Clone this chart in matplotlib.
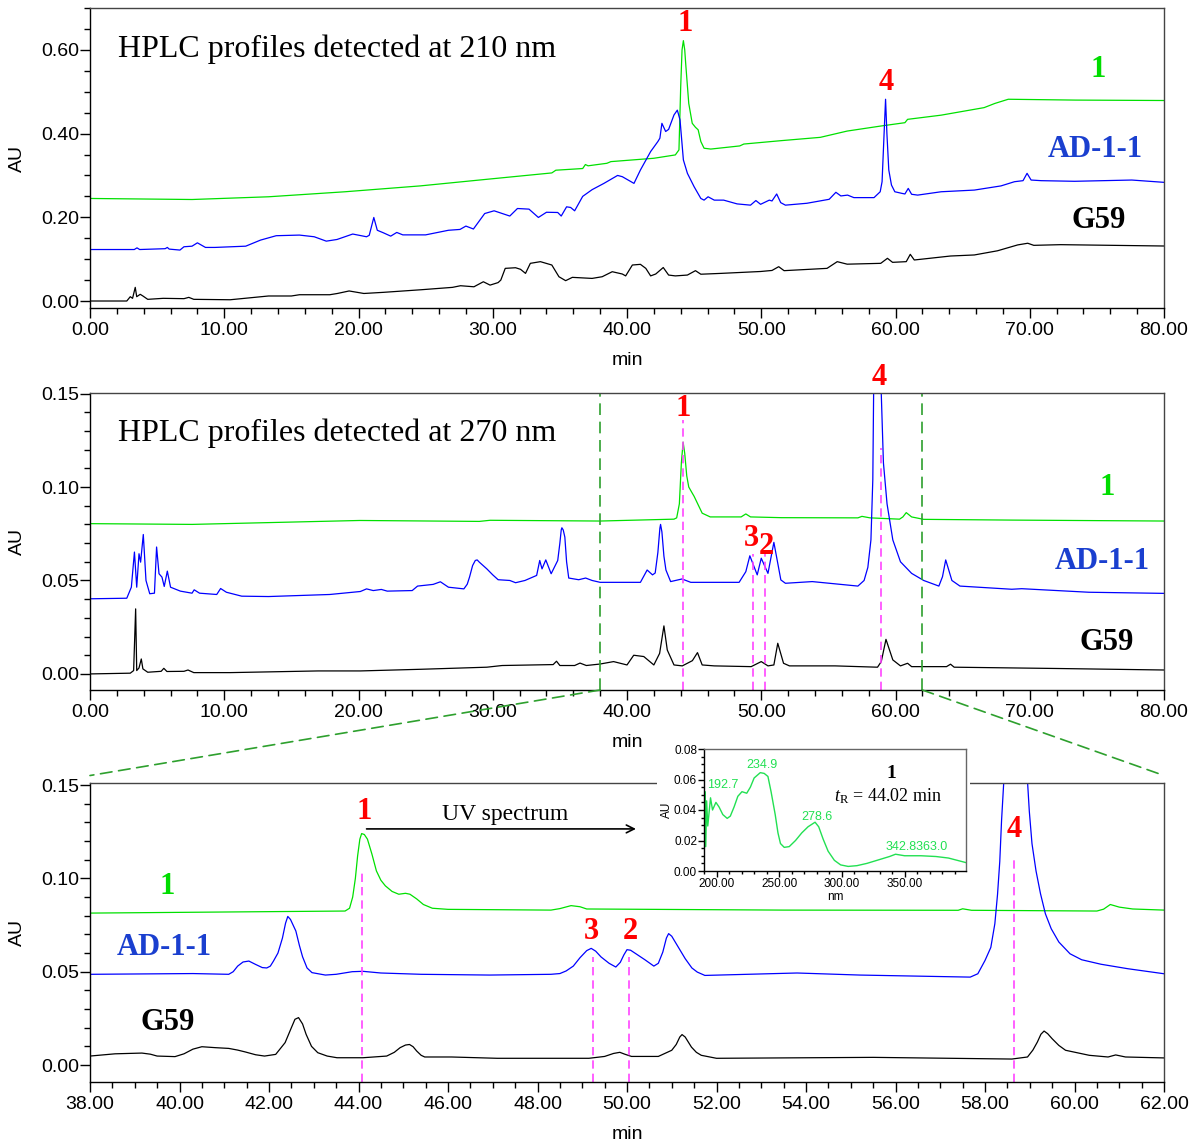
import matplotlib
matplotlib.use('Agg')
import matplotlib.pyplot as plt
from matplotlib.ticker import MultipleLocator, FormatStrFormatter
from matplotlib.patches import Rectangle, ConnectionPatch

# ---------------- data ----------------
# Panel 1: 210 nm, (time [min], AU)
CMP1_210 = [(0, 0.245), (7.6, 0.2425), (13.3, 0.249), (19.0, 0.261), (24.6, 0.275), (29.0, 0.289),
            (34.4, 0.306), (34.7, 0.3125), (36.7, 0.3165), (36.9, 0.326), (37.1, 0.323), (38.5, 0.329),
            (38.8, 0.333), (42.0, 0.341), (43.6, 0.349), (43.87, 0.361), (44.0, 0.512), (44.1, 0.600),
            (44.2, 0.622), (44.3, 0.600), (44.37, 0.568), (44.6, 0.472), (44.86, 0.4245), (45.1, 0.415),
            (45.3, 0.409), (45.5, 0.381), (45.74, 0.365), (46.24, 0.363), (48.4, 0.3705), (48.7, 0.375),
            (51.45, 0.383), (54.4, 0.391), (56.4, 0.406), (58.9, 0.418), (60.7, 0.426), (60.9, 0.434),
            (63.4, 0.444), (66.6, 0.462), (67.4, 0.472), (68.4, 0.482), (73.4, 0.480), (80.0, 0.479)]
AD_210 = [(0, 0.123), (3.3, 0.123), (3.5, 0.127), (3.7, 0.123), (5.6, 0.125), (5.76, 0.128), (5.9, 0.124),
          (6.7, 0.1217), (7.0, 0.1296), (7.6, 0.131), (8.0, 0.139), (8.6, 0.128), (9.3, 0.128), (11.6, 0.131),
          (12.7, 0.1455), (13.87, 0.156), (15.6, 0.1575), (16.7, 0.1535), (17.6, 0.143), (18.4, 0.147),
          (19.57, 0.160), (20.6, 0.1535), (20.8, 0.157), (21.14, 0.1996), (21.4, 0.169), (21.85, 0.163),
          (22.4, 0.155), (22.85, 0.1638), (23.3, 0.158), (25.0, 0.158), (26.7, 0.169), (27.56, 0.171),
          (28.0, 0.179), (28.56, 0.172), (29.4, 0.209), (30.1, 0.2155), (31.27, 0.203), (31.84, 0.221),
          (32.7, 0.2195), (33.4, 0.1996), (34.0, 0.212), (34.84, 0.2115), (35.1, 0.203), (35.5, 0.225),
          (35.8, 0.2235), (36.1, 0.2155), (36.7, 0.250), (37.4, 0.266), (38.28, 0.281), (39.3, 0.300),
          (39.65, 0.297), (40.52, 0.281), (41.0, 0.313), (41.76, 0.357), (42.3, 0.381), (42.45, 0.389),
          (42.6, 0.4245), (42.88, 0.405), (43.1, 0.41), (43.5, 0.4445), (43.75, 0.456), (43.95, 0.4325),
          (44.2, 0.337), (44.5, 0.305), (45.0, 0.273), (45.5, 0.245), (45.74, 0.241), (46.04, 0.249),
          (46.5, 0.241), (47.2, 0.241), (48.2, 0.232), (49.2, 0.229), (49.6, 0.240), (49.95, 0.231),
          (50.6, 0.241), (50.8, 0.239), (51.15, 0.2557), (51.45, 0.235), (51.8, 0.229), (53.4, 0.2335),
          (55.06, 0.243), (55.56, 0.2597), (55.93, 0.251), (56.43, 0.253), (56.9, 0.247), (58.4, 0.247),
          (58.86, 0.261), (59.0, 0.285), (59.15, 0.40), (59.26, 0.482), (59.36, 0.40), (59.5, 0.313),
          (59.7, 0.277), (59.95, 0.261), (60.5, 0.257), (60.7, 0.2557), (60.95, 0.269), (61.2, 0.255),
          (61.65, 0.253), (63.4, 0.261), (65.87, 0.265), (67.86, 0.275), (68.86, 0.285), (69.5, 0.2875),
          (69.8, 0.305), (70.1, 0.289), (70.85, 0.2875), (73.34, 0.286), (77.6, 0.289), (80.0, 0.2835)]
G59_210 = [(0, 0.0), (2.74, 0.0), (3.0, 0.0103), (3.17, 0.0064), (3.37, 0.0326), (3.48, 0.0103),
           (3.74, 0.016), (3.94, 0.012), (4.3, 0.004), (5.45, 0.0064), (7.0, 0.0056), (7.36, 0.0087),
           (7.73, 0.004), (10.44, 0.003), (13.3, 0.012), (15.0, 0.012), (15.6, 0.015), (17.86, 0.015),
           (18.43, 0.018), (19.3, 0.024), (20.4, 0.018), (21.85, 0.0207), (24.7, 0.027), (27.0, 0.0326),
           (27.6, 0.0365), (28.6, 0.034), (29.3, 0.046), (29.8, 0.038), (30.4, 0.044), (30.6, 0.050),
           (30.93, 0.078), (31.7, 0.0795), (32.07, 0.0757), (32.44, 0.066), (32.8, 0.090), (33.55, 0.094),
           (34.4, 0.086), (34.93, 0.058), (35.43, 0.0486), (35.93, 0.0565), (37.4, 0.054), (38.15, 0.058),
           (38.9, 0.070), (39.65, 0.0645), (39.9, 0.060), (40.4, 0.086), (41.0, 0.0876), (41.4, 0.078),
           (41.76, 0.060), (42.14, 0.0645), (42.7, 0.080), (43.1, 0.062), (43.6, 0.060), (44.5, 0.062),
           (45.1, 0.0725), (45.5, 0.064), (47.0, 0.066), (49.95, 0.0705), (50.8, 0.073), (51.3, 0.082),
           (51.7, 0.0725), (54.9, 0.078), (55.66, 0.094), (56.4, 0.088), (58.9, 0.090), (59.4, 0.102),
           (59.78, 0.0924), (60.8, 0.094), (61.1, 0.1115), (61.4, 0.098), (64.1, 0.1075), (65.87, 0.110),
           (67.6, 0.120), (69.1, 0.134), (69.85, 0.138), (70.3, 0.133), (72.3, 0.1346), (80.0, 0.1314)]

# Panel 2: 270 nm
CMP1_270 = [(0, 0.0804), (7.6, 0.080), (20.1, 0.0821), (29.0, 0.0816), (29.8, 0.0822), (38.0, 0.0818),
            (43.5, 0.0828), (43.7, 0.0835), (43.9, 0.091), (44.05, 0.113), (44.18, 0.124), (44.3, 0.118),
            (44.45, 0.106), (44.6, 0.100), (44.87, 0.0966), (45.0, 0.095), (45.2, 0.092), (45.6, 0.086),
            (46.2, 0.084), (48.5, 0.084), (48.85, 0.0856), (49.2, 0.084), (51.5, 0.0836), (57.2, 0.0835),
            (57.5, 0.0843), (58.1, 0.0835), (60.3, 0.0828), (60.55, 0.084), (60.8, 0.0863), (61.2, 0.084),
            (62.1, 0.0827), (68.7, 0.0823), (80.0, 0.0818)]
AD_270 = [(0, 0.0402), (2.74, 0.0405), (3.08, 0.0464), (3.31, 0.0652), (3.48, 0.0464), (3.65, 0.0643),
          (3.77, 0.0598), (3.97, 0.0746), (4.17, 0.050), (4.45, 0.0429), (4.8, 0.0432), (4.96, 0.0679),
          (5.14, 0.0536), (5.36, 0.0518), (5.53, 0.0468), (5.76, 0.055), (6.0, 0.0464), (6.73, 0.0443),
          (7.6, 0.0432), (7.76, 0.045), (8.16, 0.0432), (9.44, 0.0425), (9.73, 0.0457), (10.16, 0.0437),
          (11.3, 0.0416), (13.3, 0.0414), (17.86, 0.0425), (20.14, 0.0441), (20.6, 0.0455), (21.1, 0.0446),
          (21.7, 0.0452), (22.14, 0.0443), (24.0, 0.0446), (24.4, 0.047), (25.56, 0.0479), (26.1, 0.0493),
          (26.7, 0.0464), (27.85, 0.0455), (28.1, 0.048), (28.27, 0.0518), (28.5, 0.058), (28.7, 0.0607),
          (28.84, 0.061), (29.0, 0.0598), (29.56, 0.0562), (30.0, 0.053), (30.4, 0.0504),
          (31.27, 0.050), (31.7, 0.0488), (32.4, 0.050), (33.27, 0.0527), (33.5, 0.0607), (33.67, 0.0562),
          (33.95, 0.061), (34.35, 0.0536), (34.84, 0.0607), (35.0, 0.070), (35.1, 0.077), (35.15, 0.0782),
          (35.25, 0.077), (35.37, 0.0732), (35.5, 0.060), (35.66, 0.0513),
          (36.4, 0.0504), (36.92, 0.0513), (37.4, 0.050), (38.0, 0.049), (41.0, 0.049), (41.5, 0.0556),
          (41.9, 0.053), (42.1, 0.054), (42.3, 0.065), (42.45, 0.078), (42.5, 0.080), (42.6, 0.076),
          (42.75, 0.063), (42.9, 0.0556), (43.25, 0.0494), (44.1, 0.0508), (44.75, 0.049),
          (48.35, 0.049), (48.85, 0.0547), (49.15, 0.0632), (49.7, 0.053), (50.0, 0.0619), (50.5, 0.0538),
          (50.94, 0.0704), (51.46, 0.0503), (51.8, 0.0485), (53.8, 0.0494), (57.2, 0.047), (57.66, 0.050),
          (57.94, 0.057), (58.17, 0.0717), (58.31, 0.104), (58.37, 0.15), (58.65, 0.22), (58.94, 0.15),
          (59.1, 0.113), (59.37, 0.091), (59.8, 0.0717), (60.37, 0.060), (61.2, 0.0538), (62.1, 0.050),
          (63.23, 0.047), (63.5, 0.052), (63.74, 0.061), (64.2, 0.050), (64.8, 0.047), (68.66, 0.0453),
          (69.4, 0.0456), (74.4, 0.0437), (80.0, 0.0431)]
G59_270 = [(0, 0.0), (3.0, 0.0004), (3.25, 0.0018), (3.4, 0.0348), (3.48, 0.0018), (3.65, 0.0032),
           (3.82, 0.008), (3.94, 0.0027), (4.3, 0.0009), (5.3, 0.0014), (5.5, 0.003), (5.73, 0.0013),
           (7.0, 0.0014), (7.3, 0.0021), (7.73, 0.0007), (10.44, 0.0007), (17.0, 0.0016), (20.14, 0.0016),
           (24.7, 0.0025), (29.56, 0.0036), (30.7, 0.0045), (34.5, 0.005), (34.75, 0.0068), (35.0, 0.0045),
           (36.1, 0.0045), (36.5, 0.0058), (36.97, 0.0045), (38.0, 0.0053), (39.0, 0.0066), (40.0, 0.0048),
           (40.5, 0.010), (41.25, 0.0093), (42.0, 0.0048), (42.43, 0.011), (42.75, 0.0257), (43.0, 0.0128),
           (43.5, 0.0048), (44.12, 0.0043), (44.87, 0.0071), (45.25, 0.0114), (45.6, 0.0048), (46.5, 0.0043),
           (49.25, 0.0039), (50.0, 0.0066), (50.5, 0.0043), (50.94, 0.0048), (51.23, 0.0164), (51.66, 0.0057),
           (52.1, 0.0043), (55.5, 0.0043), (58.66, 0.0036), (58.94, 0.0066), (59.29, 0.0185), (59.8, 0.0075),
           (60.37, 0.0043), (60.9, 0.0057), (61.2, 0.0039), (63.8, 0.0039), (64.1, 0.0052), (64.37, 0.0036),
           (72.1, 0.0029), (80.0, 0.0021)]

# Panel 3: 270 nm, expanded 38-62 min
CMP1_ZOOM = [(38, 0.0814), (43.7, 0.0825), (43.8, 0.0840), (43.87, 0.090), (43.93, 0.100), (43.98, 0.112),
             (44.03, 0.121), (44.07, 0.124), (44.13, 0.1235), (44.2, 0.121), (44.3, 0.113), (44.4, 0.104),
             (44.5, 0.099), (44.6, 0.096), (44.75, 0.093), (44.9, 0.0915), (45.05, 0.092), (45.15, 0.0915),
             (45.3, 0.089), (45.45, 0.086), (45.65, 0.084), (46.0, 0.0834), (48.3, 0.083), (48.5, 0.0838),
             (48.75, 0.0854), (48.95, 0.0848), (49.1, 0.0836), (53.5, 0.083), (57.4, 0.0829), (57.5, 0.0837),
             (57.7, 0.0829), (60.5, 0.0825), (60.65, 0.0835), (60.8, 0.086), (61.0, 0.0846), (61.3, 0.0836),
             (62.0, 0.083)]
AD_ZOOM = [(38, 0.0486), (40.3, 0.049), (41.1, 0.0486), (41.2, 0.050), (41.3, 0.053), (41.42, 0.0552),
           (41.55, 0.0557), (41.7, 0.0539), (41.85, 0.0522), (41.95, 0.052), (42.03, 0.053), (42.1, 0.0557),
           (42.2, 0.060), (42.3, 0.068), (42.37, 0.076), (42.42, 0.0796), (42.48, 0.078), (42.6, 0.0718),
           (42.68, 0.064), (42.75, 0.058), (42.85, 0.052), (42.96, 0.0495), (43.26, 0.0482), (43.5, 0.0486),
           (43.86, 0.050), (44.1, 0.0502), (44.5, 0.0493), (45.4, 0.0486), (46.93, 0.0482), (48.3, 0.0486),
           (48.5, 0.049), (48.64, 0.0504), (48.8, 0.053), (48.95, 0.0575), (49.1, 0.0613), (49.2, 0.0625),
           (49.3, 0.061), (49.42, 0.0579), (49.6, 0.0545), (49.75, 0.0525), (49.85, 0.055), (49.93, 0.059),
           (50.0, 0.0618), (50.08, 0.0615), (50.2, 0.0596), (50.4, 0.0564), (50.6, 0.053), (50.7, 0.0545),
           (50.8, 0.0605), (50.88, 0.068), (50.93, 0.0704), (51.0, 0.069), (51.1, 0.065), (51.2, 0.061),
           (51.3, 0.057), (51.45, 0.052), (51.57, 0.0498), (51.74, 0.048), (53.8, 0.0493), (55.2, 0.0482),
           (57.67, 0.0471), (57.84, 0.0489), (58.0, 0.056), (58.13, 0.063), (58.22, 0.0757), (58.28, 0.0914),
           (58.33, 0.109), (58.37, 0.131), (58.42, 0.152), (58.65, 0.22), (58.95, 0.152), (58.99, 0.136),
           (59.05, 0.1186), (59.14, 0.104), (59.24, 0.0918), (59.35, 0.081), (59.48, 0.073), (59.65, 0.0659),
           (59.9, 0.0596), (60.16, 0.0564), (60.59, 0.054), (61.19, 0.0516), (62.0, 0.0489)]
G59_ZOOM = [(38, 0.0048), (38.56, 0.006), (39.16, 0.0064), (39.35, 0.0058), (39.5, 0.0048), (39.9, 0.0045),
            (40.1, 0.006), (40.3, 0.0085), (40.5, 0.0098), (40.8, 0.0093), (41.1, 0.0089), (41.3, 0.008),
            (41.47, 0.007), (41.7, 0.0055), (41.9, 0.0048), (42.15, 0.0057), (42.36, 0.012), (42.5, 0.020),
            (42.58, 0.0245), (42.66, 0.0254), (42.75, 0.022), (42.83, 0.0164), (42.95, 0.010), (43.09, 0.0066),
            (43.3, 0.0048), (43.52, 0.0039), (44.1, 0.0039), (44.63, 0.0048), (44.8, 0.0068), (44.93, 0.0093),
            (45.05, 0.0107), (45.14, 0.011), (45.22, 0.0098), (45.3, 0.0075), (45.4, 0.0052), (45.48, 0.0043),
            (46.08, 0.0043), (47.1, 0.0036), (49.15, 0.0036), (49.5, 0.0046), (49.7, 0.0062), (49.84, 0.0068),
            (49.95, 0.0058), (50.1, 0.0046), (50.7, 0.0046), (51.0, 0.0079), (51.1, 0.011), (51.18, 0.015),
            (51.23, 0.0163), (51.3, 0.015), (51.44, 0.0096), (51.55, 0.0068), (51.66, 0.0052), (52.0, 0.0036),
            (55.5, 0.0041), (58.6, 0.0032), (58.95, 0.0043), (59.07, 0.008), (59.17, 0.0123), (59.25, 0.0165),
            (59.32, 0.0182), (59.4, 0.0168), (59.5, 0.0141), (59.65, 0.0105), (59.8, 0.0079), (60.33, 0.0052),
            (60.75, 0.0043), (60.92, 0.0054), (61.14, 0.0043), (62.0, 0.0038)]

# UV spectrum of compound 1 (nm, AU)
UV_SPECTRUM = [(190.5, 0.016), (190.8, 0.052), (191.4, 0.016), (192.1, 0.046), (193.0, 0.0295), (195.2, 0.048),
               (196.8, 0.040), (199.5, 0.045), (202.0, 0.042), (205.0, 0.037), (208.5, 0.0345), (211.0, 0.036),
               (214.0, 0.042), (217.0, 0.049), (220.3, 0.052), (224.1, 0.051), (227.0, 0.055), (230.0, 0.061),
               (234.9, 0.0645), (238.0, 0.064), (241.0, 0.062), (243.5, 0.052), (246.8, 0.037), (249.0, 0.025),
               (251.0, 0.018), (254.0, 0.0155), (258.0, 0.016), (263.0, 0.020), (268.0, 0.025), (273.0, 0.029),
               (278.6, 0.032), (281.5, 0.029), (285.0, 0.021), (289.0, 0.013), (294.0, 0.007), (299.0, 0.004),
               (305.0, 0.003), (312.0, 0.0035), (320.0, 0.005), (330.0, 0.0075), (338.0, 0.0095), (342.8, 0.011),
               (350.0, 0.010), (363.0, 0.010), (375.0, 0.0095), (385.0, 0.0085), (392.0, 0.007), (399.0, 0.0055)]
UV_MAXIMA = ["192.7", "234.9", "278.6", "342.8363.0"]

ZOOM_RANGE = (38, 62)
MARK_RT_PANEL2 = [44.2, 49.4, 50.25, 58.9]
MARK_TOP_PANEL2 = [0.136, 0.064, 0.064, 0.121]
MARK_RT_PANEL3 = [44.07, 49.23, 50.05, 58.65]
MARK_TOP_PANEL3 = [0.105, 0.058, 0.058, 0.111]

SAMPLE_NAMES = ["1", "AD-1-1", "G59"]

# ---------------- styling ----------------
plt.rcParams['font.family'] = ['Liberation Sans', 'DejaVu Sans']
plt.rcParams['mathtext.fontset'] = 'custom'
plt.rcParams['mathtext.rm'] = 'Liberation Serif'
plt.rcParams['mathtext.it'] = 'Liberation Serif:italic'
SERIF = ['Liberation Serif', 'DejaVu Serif']

LINE_GREEN = '#00e000'
LINE_BLUE = '#0000ff'
LINE_BLACK = '#000000'
LBL_GREEN = '#00dd00'
LBL_BLUE = '#1a3fcf'
RED = '#ff0000'
MAGENTA = '#ff44ff'
DGREEN = '#2ea02e'
SPEC_GREEN = '#22e052'

W, H = 1193, 1146
fig = plt.figure(figsize=(W / 100, H / 100), dpi=100)


def rect(l, t, r, b):
    return [l / W, 1 - b / H, (r - l) / W, (b - t) / H]


ax1 = fig.add_axes(rect(90, 8, 1164, 308))
ax2 = fig.add_axes(rect(90, 393, 1164, 690))
ax3 = fig.add_axes(rect(90, 783, 1164, 1082))
axi = fig.add_axes(rect(704, 749, 966, 871))


def style(ax, xmaj, xmin, ymaj, ymin, size=14, maj=7, mnr=4, frame='#444444'):
    ax.xaxis.set_major_locator(MultipleLocator(xmaj))
    ax.xaxis.set_minor_locator(MultipleLocator(xmin))
    ax.yaxis.set_major_locator(MultipleLocator(ymaj))
    ax.yaxis.set_minor_locator(MultipleLocator(ymin))
    ax.xaxis.set_major_formatter(FormatStrFormatter('%.2f'))
    ax.yaxis.set_major_formatter(FormatStrFormatter('%.2f'))
    ax.tick_params(which='major', length=maj, width=1, labelsize=size, direction='out')
    ax.tick_params(which='minor', length=mnr, width=1, direction='out')
    ax.tick_params(axis='y', which='both', pad=1)
    ax.tick_params(axis='x', which='both', pad=3)
    for s in ['top', 'right']:
        ax.spines[s].set_color(frame)
    for s in ax.spines.values():
        s.set_linewidth(1.0)


def trace(ax, pts, color):
    t, v = zip(*pts)
    ax.plot(t, v, color=color, lw=0.9)


def bold(ax, x, y, s, color, size=22):
    ax.text(x, y, s, color=color, fontsize=size, fontweight='bold', family=SERIF,
            ha='center', va='center', clip_on=False)


# ---- Panel 1 ----
trace(ax1, CMP1_210, LINE_GREEN)
trace(ax1, AD_210, LINE_BLUE)
trace(ax1, G59_210, LINE_BLACK)
ax1.set_xlim(0, 80)
ax1.set_ylim(-0.0167, 0.700)
style(ax1, 10, 2, 0.20, 0.05)
ax1.text(2.09, 0.602, "HPLC profiles detected at 210 nm", family=SERIF, fontsize=23, ha='left', va='center')
bold(ax1, 44.3, 0.662, "1", RED)
bold(ax1, 59.28, 0.523, "4", RED)
bold(ax1, 75.1, 0.552, SAMPLE_NAMES[0], LBL_GREEN)
bold(ax1, 74.87, 0.361, SAMPLE_NAMES[1], LBL_BLUE)
bold(ax1, 75.1, 0.1935, SAMPLE_NAMES[2], LINE_BLACK)

# ---- Panel 2 ----
trace(ax2, CMP1_270, LINE_GREEN)
trace(ax2, AD_270, LINE_BLUE)
trace(ax2, G59_270, LINE_BLACK)
ax2.set_xlim(0, 80)
ax2.set_ylim(-0.0086, 0.1503)
style(ax2, 10, 2, 0.05, 0.01)
ax2.text(2.09, 0.129, "HPLC profiles detected at 270 nm", family=SERIF, fontsize=23, ha='left', va='center')
for xv in ZOOM_RANGE:
    ax2.axvline(xv, color=DGREEN, lw=1.2, ls=(0, (7, 4)))
ax2.vlines(MARK_RT_PANEL2, ax2.get_ylim()[0], MARK_TOP_PANEL2, colors=MAGENTA, lw=1.2,
           linestyles=(0, (5, 3)))
bold(ax2, 44.22, 0.1422, "1", RED)
bold(ax2, 58.76, 0.1588, "4", RED)
bold(ax2, 49.29, 0.0727, "3", RED)
bold(ax2, 50.34, 0.0684, "2", RED)
bold(ax2, 75.76, 0.0995, SAMPLE_NAMES[0], LBL_GREEN)
bold(ax2, 75.39, 0.0599, SAMPLE_NAMES[1], LBL_BLUE)
bold(ax2, 75.76, 0.0166, SAMPLE_NAMES[2], LINE_BLACK)

# ---- Panel 3 ----
trace(ax3, CMP1_ZOOM, LINE_GREEN)
trace(ax3, AD_ZOOM, LINE_BLUE)
trace(ax3, G59_ZOOM, LINE_BLACK)
ax3.set_xlim(*ZOOM_RANGE)
ax3.set_ylim(-0.0091, 0.1511)
style(ax3, 2, 0.5, 0.05, 0.01)
ax3.vlines(MARK_RT_PANEL3, ax3.get_ylim()[0], MARK_TOP_PANEL3, colors=MAGENTA, lw=1.2,
           linestyles=(0, (5, 3)))
bold(ax3, 44.12, 0.1356, "1", RED)
bold(ax3, 49.21, 0.0713, "3", RED)
bold(ax3, 50.08, 0.0713, "2", RED)
bold(ax3, 58.65, 0.126, "4", RED)
bold(ax3, 39.72, 0.0959, SAMPLE_NAMES[0], LBL_GREEN)
bold(ax3, 39.67, 0.0632, SAMPLE_NAMES[1], LBL_BLUE)
bold(ax3, 39.74, 0.023, SAMPLE_NAMES[2], LINE_BLACK)
ax3.annotate('', xy=(50.2, 0.1265), xytext=(44.18, 0.1265),
             arrowprops=dict(arrowstyle='->', color='black', lw=1.2, shrinkA=0, shrinkB=0,
                             mutation_scale=14))
ax3.text(47.27, 0.1342, "UV spectrum", family=SERIF, fontsize=17, ha='center', va='center')

for ax in (ax1, ax2, ax3):
    ax.set_ylabel('AU', fontsize=14)
    ax.yaxis.set_label_coords(-0.0595, 0.5)
    ax.set_xlabel('min', fontsize=14)
    ax.xaxis.set_label_coords(0.5, -0.147)

# connection lines from zoom window to expanded panel
for xv, xb in zip(ZOOM_RANGE, (0.0, 1.0)):
    con = ConnectionPatch(xyA=(xv, ax2.get_ylim()[0]), coordsA=ax2.transData,
                          xyB=(xb, 1.025), coordsB=ax3.transAxes,
                          color=DGREEN, lw=1.2, ls=(0, (7, 4)))
    fig.add_artist(con)

# ---- Inset: UV spectrum ----
fig.add_artist(Rectangle((657 / W, 1 - 903 / H), (970 - 657) / W, (903 - 742) / H,
                         transform=fig.transFigure, facecolor='white', edgecolor='none', zorder=5))
axi.set_zorder(6)
nm, au = zip(*UV_SPECTRUM)
axi.plot(nm, au, color=SPEC_GREEN, lw=1.0)
axi.set_xlim(190, 399)
axi.set_ylim(0, 0.08)
style(axi, 50, 10, 0.02, 0.005, size=8.5, maj=4, mnr=2, frame='#666666')
axi.tick_params(axis='x', which='both', pad=1)
axi.set_xlabel('nm', fontsize=8.5, labelpad=1)
axi.set_ylabel('AU', fontsize=8.5, labelpad=1)
for lbl, (x, y) in zip(UV_MAXIMA, [(204.8, 0.0564), (235.9, 0.0695), (280.2, 0.0354), (359.7, 0.0157)]):
    axi.text(x, y, lbl, color=SPEC_GREEN, fontsize=9, ha='center', va='center')
axi.text(0.714, 0.80, "1", transform=axi.transAxes, family=SERIF, fontsize=14, fontweight='bold',
         ha='center', va='center')
axi.text(0.70, 0.61, r"$\mathit{t}_{\mathrm{R}}$ = 44.02 min", transform=axi.transAxes, family=SERIF,
         fontsize=13, ha='center', va='center')

fig.savefig('out.png', dpi=100)
